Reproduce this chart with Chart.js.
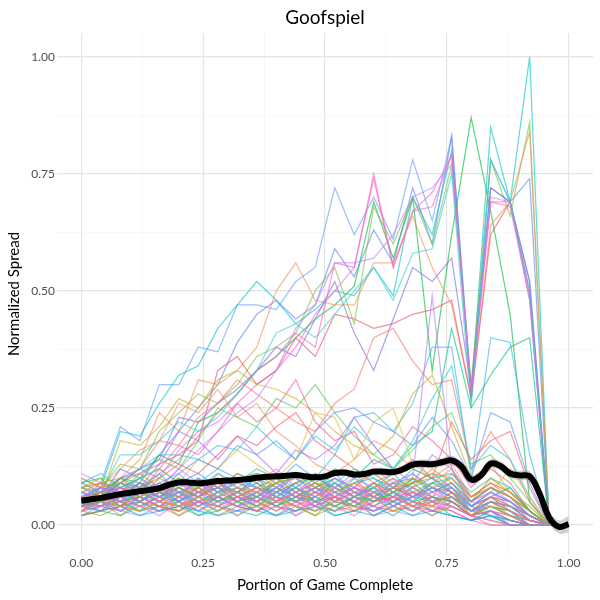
<!DOCTYPE html>
<html>
<head>
<meta charset="utf-8">
<script src="https://cdn.jsdelivr.net/npm/chart.js@4.4.1/dist/chart.umd.min.js"></script>
<style>
  html, body { margin: 0; padding: 0; background: #ffffff; }
  #wrap { width: 600px; height: 600px; }
</style>
</head>
<body>
<div id="wrap"><canvas id="c" width="600" height="600"></canvas></div>
<script>
// ---------- data ----------
const chartTitle = 'Goofspiel';
const xAxisTitle = 'Portion of Game Complete';
const yAxisTitle = 'Normalized Spread';

const xTickValues = [0, 0.25, 0.5, 0.75, 1];
const xTickLabels = ['0.00', '0.25', '0.50', '0.75', '1.00'];
const yTickValues = [0, 0.25, 0.5, 0.75, 1];
const yTickLabels = ['0.00', '0.25', '0.50', '0.75', '1.00'];
const minorGrid = [0.125, 0.375, 0.625, 0.875];

const progress = [0,0.04,0.08,0.12,0.16,0.2,0.24,0.28,0.32,0.36,0.4,0.44,0.48,0.52,0.56,0.6,0.64,0.68,0.72,0.76,0.8,0.84,0.88,0.92,0.96,1];

// individual games (spread at each progress step)
const runs = [
  [0.05,0.09,0.21,0.18,0.30,0.30,0.38,0.37,0.47,0.47,0.46,0.52,0.55,0.72,0.62,0.70,0.61,0.78,0.65,0.83,0.27,0.78,0.69,0.52,0,0],
  [0.04,0.08,0.20,0.19,0.26,0.32,0.34,0.42,0.47,0.52,0.48,0.43,0.46,0.50,0.49,0.55,0.49,0.70,0.62,0.80,0.28,0.85,0.69,1.00,0,0],
  [0.07,0.06,0.12,0.10,0.15,0.20,0.25,0.30,0.39,0.45,0.48,0.44,0.47,0.59,0.53,0.63,0.56,0.72,0.60,0.83,0.29,0.72,0.69,0.74,0,0],
  [0.05,0.07,0.09,0.12,0.10,0.16,0.20,0.22,0.26,0.30,0.33,0.38,0.45,0.50,0.55,0.75,0.55,0.67,0.71,0.79,0.28,0.69,0.69,0.50,0,0],
  [0.04,0.06,0.10,0.09,0.15,0.13,0.22,0.24,0.28,0.33,0.36,0.40,0.44,0.47,0.51,0.69,0.57,0.70,0.33,0.62,0.87,0.67,0.45,0.05,0,0],
  [0.05,0.08,0.13,0.12,0.20,0.24,0.28,0.26,0.30,0.36,0.38,0.41,0.50,0.55,0.43,0.68,0.60,0.70,0.60,0.77,0.30,0.78,0.66,0.86,0,0],
  [0.06,0.05,0.10,0.14,0.24,0.20,0.31,0.30,0.33,0.38,0.50,0.56,0.48,0.47,0.47,0.56,0.56,0.66,0.55,0.47,0.27,0.64,0.69,0.84,0,0],
  [0.03,0.06,0.09,0.08,0.13,0.15,0.18,0.33,0.36,0.30,0.33,0.40,0.36,0.45,0.44,0.42,0.43,0.45,0.46,0.48,0.27,0.62,0.69,0.49,0,0],
  [0.05,0.07,0.10,0.12,0.14,0.23,0.22,0.26,0.29,0.33,0.38,0.36,0.44,0.52,0.41,0.33,0.44,0.55,0.52,0.57,0.29,0.72,0.69,0.52,0,0],
  [0.04,0.05,0.08,0.07,0.11,0.14,0.19,0.24,0.28,0.33,0.36,0.41,0.38,0.56,0.55,0.74,0.55,0.67,0.68,0.79,0.28,0.69,0.68,0.48,0,0],
  [0.03,0.05,0.06,0.09,0.08,0.12,0.16,0.20,0.24,0.27,0.33,0.42,0.47,0.56,0.56,0.57,0.62,0.70,0.72,0.77,0.29,0.70,0.69,0.48,0,0],
  [0.05,0.07,0.15,0.15,0.18,0.22,0.20,0.23,0.28,0.33,0.41,0.43,0.40,0.45,0.50,0.55,0.48,0.58,0.59,0.75,0.25,0.78,0.69,0.50,0,0],
  [0.04,0.06,0.05,0.08,0.07,0.10,0.09,0.12,0.10,0.11,0.09,0.13,0.10,0.15,0.23,0.24,0.20,0.26,0.38,0.38,0.10,0.40,0.39,0.15,0,0],
  [0.05,0.04,0.06,0.05,0.08,0.07,0.06,0.09,0.07,0.10,0.08,0.11,0.09,0.12,0.10,0.14,0.12,0.17,0.20,0.42,0.25,0.32,0.38,0.40,0,0],
  [0.05,0.04,0.09,0.12,0.18,0.17,0.23,0.26,0.31,0.28,0.25,0.22,0.20,0.26,0.29,0.40,0.42,0.35,0.30,0.31,0.12,0.20,0.14,0.05,0,0],
  [0.04,0.06,0.18,0.17,0.21,0.27,0.25,0.31,0.33,0.30,0.29,0.27,0.24,0.20,0.17,0.15,0.19,0.28,0.32,0.21,0.10,0.13,0.07,0.03,0,0],
  [0.06,0.08,0.12,0.16,0.18,0.26,0.24,0.29,0.23,0.26,0.20,0.17,0.13,0.11,0.14,0.18,0.16,0.12,0.10,0.13,0.06,0.09,0.07,0.03,0,0],
  [0.04,0.05,0.07,0.11,0.14,0.12,0.18,0.25,0.23,0.21,0.27,0.25,0.30,0.24,0.19,0.15,0.12,0.16,0.21,0.24,0.13,0.15,0.10,0.05,0,0],
  [0.05,0.06,0.09,0.07,0.12,0.17,0.15,0.20,0.26,0.22,0.25,0.31,0.22,0.18,0.20,0.13,0.15,0.21,0.18,0.14,0.08,0.12,0.09,0.03,0,0],
  [0.03,0.05,0.09,0.12,0.15,0.15,0.14,0.17,0.16,0.21,0.17,0.14,0.19,0.16,0.21,0.17,0.12,0.18,0.27,0.34,0.12,0.17,0.14,0.06,0,0],
  [0.06,0.07,0.10,0.11,0.13,0.20,0.18,0.14,0.19,0.15,0.11,0.16,0.14,0.17,0.23,0.17,0.12,0.09,0.15,0.12,0.05,0.08,0.06,0.02,0,0],
  [0.04,0.03,0.07,0.10,0.12,0.09,0.14,0.12,0.16,0.13,0.10,0.14,0.24,0.23,0.14,0.22,0.25,0.13,0.10,0.08,0.05,0.07,0.12,0.06,0,0],
  [0.05,0.07,0.08,0.06,0.10,0.13,0.11,0.15,0.19,0.17,0.21,0.24,0.18,0.15,0.12,0.09,0.11,0.14,0.10,0.22,0.14,0.18,0.20,0.08,0,0],
  [0.03,0.04,0.06,0.09,0.07,0.11,0.14,0.12,0.17,0.15,0.18,0.14,0.20,0.24,0.25,0.22,0.20,0.17,0.23,0.18,0.10,0.24,0.22,0.09,0,0],
  [0.04,0.06,0.05,0.08,0.06,0.09,0.07,0.10,0.08,0.07,0.09,0.06,0.08,0.11,0.07,0.06,0.09,0.10,0.49,0.12,0.04,0.06,0.05,0.02,0,0],
  [0.08,0.09,0.06,0.07,0.05,0.08,0.06,0.09,0.07,0.05,0.08,0.06,0.07,0.05,0.09,0.06,0.08,0.07,0.05,0.06,0.03,0.05,0.02,0.01,0,0],
  [0.03,0.05,0.02,0.04,0.06,0.03,0.05,0.04,0.02,0.05,0.03,0.06,0.04,0.03,0.05,0.02,0.04,0.06,0.03,0.04,0.02,0.03,0.01,0,0,0],
  [0.10,0.08,0.09,0.11,0.08,0.10,0.07,0.09,0.06,0.08,0.10,0.07,0.09,0.08,0.06,0.09,0.07,0.10,0.08,0.07,0.04,0.06,0.05,0.02,0,0],
  [0.05,0.04,0.07,0.05,0.03,0.06,0.04,0.07,0.05,0.03,0.06,0.04,0.02,0.06,0.04,0.07,0.05,0.03,0.06,0.05,0.02,0.04,0.03,0.01,0,0],
  [0.06,0.07,0.04,0.08,0.06,0.05,0.08,0.05,0.07,0.09,0.06,0.05,0.08,0.10,0.07,0.05,0.08,0.06,0.09,0.07,0.03,0.06,0.04,0.02,0,0],
  [0.02,0.03,0.02,0.05,0.03,0.04,0.02,0.04,0.03,0.02,0.04,0.03,0.05,0.02,0.03,0.04,0.02,0.05,0.03,0.02,0.01,0.02,0,0,0,0],
  [0.09,0.07,0.10,0.08,0.11,0.07,0.09,0.06,0.10,0.08,0.07,0.11,0.08,0.06,0.10,0.08,0.11,0.07,0.09,0.10,0.05,0.08,0.06,0.03,0,0],
  [0.04,0.06,0.05,0.03,0.07,0.05,0.03,0.06,0.04,0.07,0.05,0.08,0.05,0.04,0.06,0.08,0.04,0.06,0.05,0.08,0.03,0.05,0.04,0.01,0,0],
  [0.07,0.05,0.08,0.06,0.09,0.11,0.07,0.08,0.10,0.06,0.09,0.07,0.10,0.08,0.11,0.07,0.06,0.09,0.11,0.08,0.04,0.07,0.05,0.02,0,0],
  [0.03,0.04,0.06,0.04,0.02,0.05,0.07,0.04,0.06,0.04,0.02,0.05,0.03,0.07,0.05,0.03,0.06,0.04,0.02,0.05,0.02,0.03,0,0,0,0],
  [0.11,0.09,0.07,0.10,0.08,0.12,0.09,0.07,0.11,0.09,0.12,0.08,0.06,0.10,0.08,0.12,0.09,0.11,0.07,0.09,0.05,0.07,0.04,0.02,0,0],
  [0.05,0.06,0.03,0.05,0.04,0.02,0.05,0.03,0.06,0.04,0.05,0.03,0.06,0.04,0.02,0.05,0.07,0.04,0.05,0.03,0.01,0.03,0.02,0,0,0],
  [0.06,0.08,0.05,0.06,0.09,0.06,0.10,0.08,0.05,0.07,0.09,0.06,0.04,0.08,0.10,0.06,0.05,0.08,0.06,0.11,0.06,0.08,0.05,0.02,0,0],
  [0.02,0.04,0.03,0.02,0.04,0.06,0.03,0.05,0.02,0.04,0.06,0.02,0.04,0.03,0.05,0.02,0.03,0.02,0.04,0.03,0.01,0.02,0.01,0,0,0],
  [0.08,0.06,0.09,0.07,0.06,0.09,0.11,0.08,0.07,0.10,0.06,0.09,0.11,0.07,0.09,0.10,0.07,0.05,0.08,0.06,0.03,0.05,0.04,0.01,0,0],
  [0.04,0.05,0.07,0.06,0.04,0.03,0.06,0.08,0.05,0.06,0.04,0.07,0.05,0.09,0.06,0.04,0.07,0.09,0.06,0.04,0.02,0.04,0.03,0,0,0],
  [0.07,0.09,0.08,0.05,0.07,0.08,0.05,0.07,0.09,0.11,0.08,0.06,0.09,0.07,0.05,0.08,0.10,0.08,0.12,0.09,0.05,0.10,0.07,0.03,0,0],
  [0.03,0.02,0.04,0.03,0.05,0.02,0.04,0.02,0.04,0.03,0.05,0.04,0.02,0.04,0.03,0.06,0.03,0.04,0.02,0.04,0.02,0.01,0,0,0,0],
  [0.09,0.10,0.06,0.09,0.07,0.06,0.10,0.07,0.08,0.06,0.09,0.10,0.07,0.09,0.06,0.08,0.06,0.10,0.07,0.09,0.04,0.06,0.08,0.03,0,0],
  [0.05,0.03,0.06,0.04,0.06,0.07,0.05,0.03,0.05,0.07,0.04,0.06,0.08,0.05,0.04,0.06,0.04,0.07,0.05,0.06,0.03,0.04,0.02,0.01,0,0],
  [0.06,0.05,0.04,0.07,0.05,0.04,0.07,0.06,0.04,0.06,0.08,0.05,0.07,0.06,0.08,0.05,0.06,0.04,0.07,0.05,0.02,0.05,0.03,0,0,0],
  [0.04,0.07,0.05,0.06,0.08,0.05,0.04,0.06,0.08,0.05,0.07,0.09,0.05,0.07,0.05,0.07,0.09,0.05,0.04,0.07,0.03,0.06,0.04,0.02,0,0],
  [0.10,0.08,0.05,0.09,0.06,0.08,0.06,0.11,0.08,0.06,0.10,0.07,0.09,0.06,0.08,0.11,0.08,0.06,0.09,0.12,0.06,0.09,0.06,0.02,0,0],
  [0.02,0.03,0.05,0.03,0.04,0.05,0.02,0.03,0.05,0.03,0.02,0.04,0.03,0.05,0.04,0.03,0.05,0.03,0.05,0.02,0.01,0.03,0.01,0,0,0],
  [0.07,0.06,0.08,0.10,0.07,0.05,0.08,0.10,0.06,0.08,0.05,0.08,0.06,0.09,0.07,0.05,0.08,0.11,0.08,0.06,0.04,0.07,0.05,0.01,0,0],
  [0.05,0.07,0.04,0.05,0.07,0.06,0.08,0.05,0.07,0.04,0.07,0.05,0.07,0.04,0.06,0.09,0.05,0.07,0.04,0.07,0.02,0.05,0.03,0.01,0,0],
  [0.03,0.05,0.03,0.06,0.04,0.07,0.05,0.04,0.03,0.06,0.04,0.03,0.05,0.06,0.04,0.03,0.05,0.03,0.06,0.04,0.02,0.03,0.02,0,0,0],
  [0.08,0.07,0.06,0.08,0.10,0.08,0.06,0.08,0.11,0.09,0.07,0.09,0.10,0.08,0.06,0.09,0.07,0.09,0.10,0.07,0.05,0.08,0.06,0.03,0,0],
  [0.06,0.04,0.06,0.04,0.05,0.07,0.09,0.06,0.04,0.05,0.07,0.05,0.03,0.05,0.07,0.04,0.06,0.05,0.03,0.06,0.03,0.04,0.02,0,0,0],
  [0.04,0.06,0.08,0.07,0.05,0.04,0.05,0.07,0.05,0.08,0.06,0.04,0.06,0.08,0.05,0.07,0.04,0.06,0.08,0.05,0.02,0.05,0.04,0.01,0,0],
  [0.05,0.04,0.05,0.06,0.04,0.06,0.05,0.04,0.06,0.05,0.03,0.05,0.04,0.06,0.05,0.04,0.03,0.05,0.04,0.03,0.01,0,0,0,0,0],
  [0.07,0.08,0.07,0.05,0.08,0.06,0.07,0.09,0.07,0.05,0.08,0.06,0.08,0.05,0.07,0.06,0.08,0.06,0.07,0.08,0.04,0.02,0,0,0,0],
  [0.03,0.04,0.03,0.04,0.03,0.05,0.03,0.05,0.04,0.03,0.04,0.02,0.05,0.03,0.04,0.03,0.04,0.03,0.05,0.04,0.02,0,0,0,0,0],
  [0.09,0.07,0.09,0.08,0.06,0.07,0.09,0.06,0.08,0.10,0.07,0.08,0.06,0.09,0.07,0.08,0.09,0.06,0.07,0.08,0.05,0.04,0.02,0,0,0],
  [0.06,0.05,0.07,0.05,0.08,0.05,0.07,0.05,0.06,0.04,0.07,0.05,0.06,0.04,0.06,0.05,0.07,0.05,0.06,0.05,0.03,0.02,0,0,0,0],
  [0.05,0.06,0.04,0.07,0.05,0.08,0.06,0.04,0.07,0.05,0.06,0.08,0.05,0.06,0.04,0.07,0.05,0.08,0.05,0.06,0.03,0.05,0.04,0.02,0,0],
  [0.04,0.03,0.04,0.02,0.03,0.04,0.03,0.02,0.03,0.04,0.02,0.03,0.04,0.02,0.03,0.02,0.04,0.02,0.03,0.02,0.01,0.02,0.01,0,0,0],
  [0.08,0.09,0.10,0.07,0.09,0.07,0.08,0.10,0.09,0.07,0.09,0.10,0.08,0.07,0.09,0.07,0.08,0.09,0.11,0.10,0.06,0.09,0.07,0.04,0,0],
  [0.07,0.05,0.06,0.08,0.06,0.09,0.07,0.06,0.05,0.07,0.05,0.07,0.09,0.06,0.08,0.06,0.05,0.07,0.06,0.08,0.04,0.06,0.03,0.01,0,0],
  [0.04,0.05,0.04,0.05,0.07,0.04,0.06,0.05,0.07,0.06,0.04,0.06,0.05,0.03,0.06,0.05,0.07,0.04,0.06,0.05,0.02,0.04,0.02,0,0,0],
  [0.06,0.08,0.07,0.09,0.06,0.08,0.10,0.07,0.09,0.08,0.06,0.09,0.07,0.10,0.08,0.06,0.09,0.08,0.10,0.07,0.04,0.07,0.05,0.02,0,0],
  [0.03,0.05,0.04,0.03,0.05,0.04,0.06,0.03,0.05,0.04,0.06,0.04,0.03,0.05,0.04,0.06,0.03,0.05,0.04,0.06,0.02,0.04,0.02,0,0,0],
  [0.09,0.11,0.08,0.10,0.12,0.09,0.08,0.11,0.09,0.12,0.10,0.08,0.11,0.09,0.12,0.10,0.08,0.12,0.10,0.11,0.07,0.10,0.08,0.03,0,0],
  [0.05,0.06,0.08,0.05,0.07,0.09,0.06,0.08,0.06,0.05,0.08,0.10,0.07,0.05,0.08,0.07,0.10,0.06,0.08,0.09,0.05,0.08,0.06,0.02,0,0],
  [0.02,0.03,0.04,0.06,0.04,0.03,0.05,0.06,0.04,0.03,0.05,0.07,0.04,0.06,0.03,0.05,0.06,0.04,0.03,0.05,0.02,0.03,0.01,0,0,0],
  [0.07,0.06,0.05,0.07,0.09,0.07,0.05,0.07,0.10,0.08,0.06,0.08,0.11,0.08,0.06,0.09,0.07,0.05,0.09,0.08,0.04,0.03,0,0,0,0],
  [0.08,0.10,0.09,0.06,0.08,0.10,0.08,0.06,0.08,0.07,0.09,0.11,0.09,0.07,0.09,0.11,0.08,0.10,0.08,0.10,0.06,0.08,0.06,0.03,0,0],
  [0.04,0.04,0.06,0.08,0.05,0.07,0.04,0.06,0.07,0.09,0.05,0.07,0.04,0.08,0.06,0.04,0.06,0.07,0.05,0.04,0.02,0.01,0,0,0,0],
  [0.06,0.07,0.05,0.04,0.06,0.04,0.06,0.09,0.06,0.08,0.06,0.04,0.07,0.05,0.07,0.09,0.06,0.08,0.05,0.07,0.03,0.06,0.03,0.01,0,0],
  [0.05,0.05,0.03,0.06,0.05,0.07,0.04,0.06,0.04,0.06,0.08,0.06,0.05,0.07,0.05,0.03,0.05,0.06,0.08,0.06,0.03,0.05,0.03,0,0,0]
];

const runColors = [
  '#619CFF','#00C5C8','#5A86F0','#F564E3','#00BA38','#7CC040','#F0905A','#E8506A',
  '#7F6BE0','#FF64B0','#C77CFF','#33CFCF','#3AB0F0','#00C08B','#F8766D','#C8B020',
  '#F39060','#5CC85C','#EE5FA8','#30C8D8','#B070F0','#D8C040','#F06070','#6690F0','#B67AF5',
  '#F8766D','#DE8C00','#B79F00','#7CAE00','#00BA38','#00C08B','#00BFC4','#00B4F0','#619CFF','#C77CFF',
  '#F564E3','#FF64B0','#E76BF3','#9590FF','#00B0F6','#39B600','#D89000','#A3A500','#00BF7D','#00BCD8',
  '#FD61D1','#FF6C91','#F8766D','#00C19F','#619CFF','#E58700','#F564E3','#7CAE00','#C77CFF','#FF64B0',
  '#FF5AA8','#EE60D8','#F070C0','#8AA0FF','#00BFC4','#5FBF40','#00A9FF','#E08A30','#FF62BC',
  '#45C070','#7A8CFF','#E8A020','#20C4B0','#D070F0','#F05C8C','#50B8F8','#9CBF20','#E46CE0','#FF6F80'
];

// smoothed trend (loess) with its confidence band
const smoothX = [0,0.02,0.04,0.06,0.08,0.1,0.12,0.14,0.16,0.18,0.2,0.22,0.24,0.26,0.28,0.3,0.32,0.34,0.36,0.38,0.4,0.42,0.44,0.46,0.48,0.5,0.52,0.54,0.56,0.58,0.6,0.62,0.64,0.66,0.68,0.7,0.72,0.74,0.76,0.78,0.8,0.82,0.84,0.86,0.88,0.9,0.92,0.94,0.96,0.98,1];
const meanSpread = [0.052,0.055,0.058,0.062,0.066,0.069,0.072,0.075,0.079,0.086,0.091,0.091,0.089,0.091,0.094,0.095,0.096,0.098,0.101,0.103,0.104,0.105,0.107,0.104,0.102,0.104,0.111,0.112,0.108,0.109,0.114,0.114,0.113,0.119,0.129,0.131,0.130,0.134,0.138,0.125,0.097,0.106,0.131,0.126,0.110,0.106,0.104,0.068,0.016,-0.004,0.002];
const bandHigh = [0.059,0.061,0.064,0.068,0.072,0.075,0.078,0.081,0.085,0.092,0.097,0.097,0.095,0.097,0.100,0.101,0.102,0.104,0.107,0.109,0.110,0.111,0.114,0.111,0.109,0.111,0.118,0.119,0.115,0.116,0.122,0.122,0.121,0.127,0.137,0.140,0.139,0.143,0.148,0.135,0.107,0.116,0.141,0.136,0.120,0.116,0.115,0.080,0.029,0.010,0.020];
const bandLow = [0.045,0.049,0.052,0.056,0.060,0.063,0.066,0.069,0.073,0.080,0.085,0.085,0.083,0.085,0.088,0.089,0.090,0.092,0.095,0.097,0.098,0.099,0.100,0.097,0.095,0.097,0.104,0.105,0.101,0.102,0.106,0.106,0.105,0.111,0.121,0.122,0.121,0.125,0.128,0.115,0.087,0.096,0.121,0.116,0.100,0.096,0.093,0.056,0.003,-0.018,-0.016];

// ---------- chart ----------
const FONT = 'Lato, "Open Sans", "DejaVu Sans", sans-serif';

function hexA(hex, a) {
  const n = parseInt(hex.slice(1), 16);
  return 'rgba(' + ((n >> 16) & 255) + ',' + ((n >> 8) & 255) + ',' + (n & 255) + ',' + a + ')';
}

const datasets = [];
datasets.push({
  label: 'trend',
  data: smoothX.map((x, i) => ({x: x, y: meanSpread[i]})),
  borderColor: '#000000',
  borderWidth: 6,
  pointRadius: 0,
  tension: 0.4,
  fill: false,
  order: 0
});
datasets.push({
  label: 'bandHigh',
  data: smoothX.map((x, i) => ({x: x, y: bandHigh[i]})),
  borderColor: 'rgba(0,0,0,0)',
  borderWidth: 0,
  pointRadius: 0,
  tension: 0.4,
  backgroundColor: 'rgba(153,153,153,0.45)',
  fill: 2,
  order: 1
});
datasets.push({
  label: 'bandLow',
  data: smoothX.map((x, i) => ({x: x, y: bandLow[i]})),
  borderColor: 'rgba(0,0,0,0)',
  borderWidth: 0,
  pointRadius: 0,
  tension: 0.4,
  fill: false,
  order: 1
});
runs.forEach((vals, k) => {
  datasets.push({
    label: 'game ' + (k + 1),
    data: vals.map((v, i) => ({x: progress[i], y: v})),
    borderColor: hexA(runColors[k % runColors.length], k < 25 ? 0.62 : 0.6),
    borderWidth: 1.25,
    pointRadius: 0,
    tension: 0,
    fill: false,
    order: 2 + (runs.length - k)
  });
});

const isMajor = v => xTickValues.some(t => Math.abs(t - v) < 1e-9);
const gridColor = ctx => (ctx.tick && isMajor(ctx.tick.value)) ? '#e4e4e4' : '#f3f3f3';
const gridWidth = ctx => (ctx.tick && isMajor(ctx.tick.value)) ? 1.2 : 0.7;

new Chart(document.getElementById('c'), {
  type: 'line',
  data: { datasets: datasets },
  options: {
    responsive: false,
    animation: false,
    events: [],
    layout: { padding: { left: 0, right: 7, top: 0, bottom: 0 } },
    plugins: {
      legend: { display: false },
      tooltip: { enabled: false },
      title: {
        display: true,
        text: chartTitle,
        fullSize: false,
        color: '#000000',
        font: { family: FONT, size: 19, weight: 'normal' },
        padding: { top: 6, bottom: 4.2 }
      }
    },
    scales: {
      x: {
        type: 'linear',
        min: -0.05,
        max: 1.05,
        afterBuildTicks: s => { s.ticks = xTickValues.concat(minorGrid).sort((a, b) => a - b).map(v => ({value: v})); },
        afterFit: s => { s.height = 45; },
        ticks: {
          autoSkip: false,
          maxRotation: 0,
          padding: 1,
          color: '#4d4d4d',
          font: { family: FONT, size: 12 },
          callback: v => { const i = xTickValues.findIndex(t => Math.abs(t - v) < 1e-9); return i >= 0 ? xTickLabels[i] : ''; }
        },
        grid: { color: gridColor, lineWidth: gridWidth, drawTicks: false },
        border: { display: false },
        title: {
          display: true,
          text: xAxisTitle,
          color: '#000000',
          font: { family: FONT, size: 15 },
          padding: { top: 0, bottom: 6 }
        }
      },
      y: {
        type: 'linear',
        min: -0.064,
        max: 1.0507,
        afterBuildTicks: s => { s.ticks = yTickValues.concat(minorGrid).sort((a, b) => a - b).map(v => ({value: v})); },
        afterFit: s => { s.width = 57; },
        ticks: {
          autoSkip: false,
          padding: 2,
          color: '#4d4d4d',
          font: { family: FONT, size: 12 },
          callback: v => { const i = yTickValues.findIndex(t => Math.abs(t - v) < 1e-9); return i >= 0 ? yTickLabels[i] : ''; }
        },
        grid: { color: gridColor, lineWidth: gridWidth, drawTicks: false },
        border: { display: false },
        title: {
          display: true,
          text: yAxisTitle,
          color: '#000000',
          font: { family: FONT, size: 15 },
          padding: { top: 5, bottom: 0 }
        }
      }
    }
  }
});
</script>
</body>
</html>
